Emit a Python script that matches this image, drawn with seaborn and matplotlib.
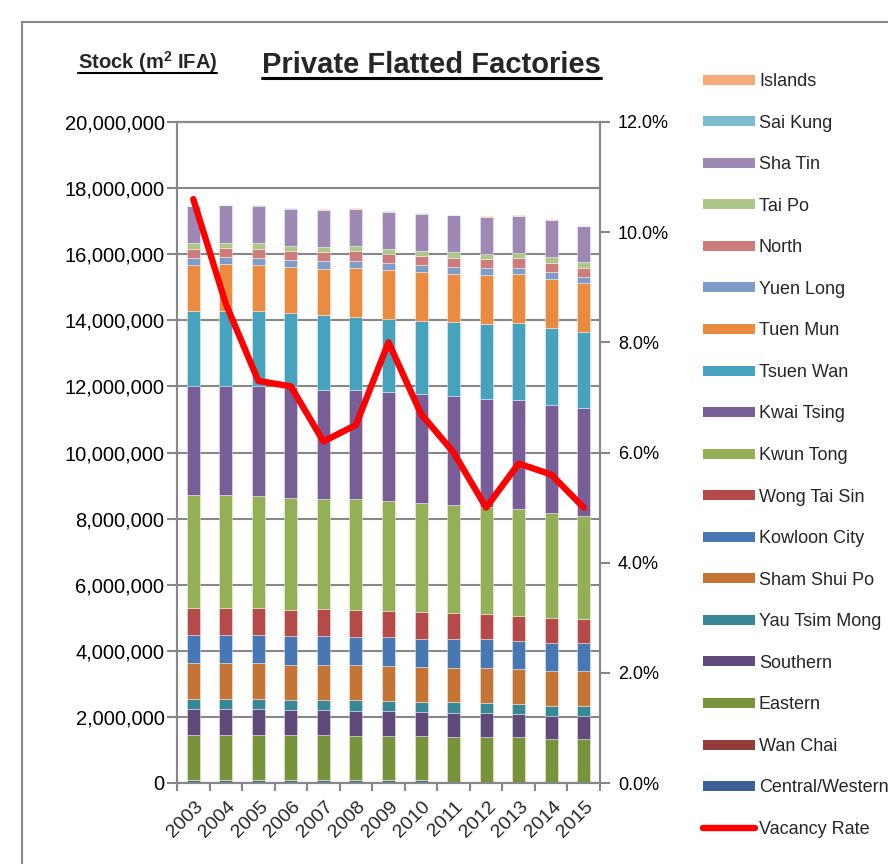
import numpy as np
import matplotlib
matplotlib.use("Agg")
import matplotlib.pyplot as plt
import matplotlib.transforms as mtransforms
from matplotlib.lines import Line2D
from matplotlib.ticker import FuncFormatter, FixedLocator
import seaborn as sns

years = ["2003", "2004", "2005", "2006", "2007", "2008", "2009",
         "2010", "2011", "2012", "2013", "2014", "2015"]

# Private flatted factory stock by district, thousand m2 IFA
central_western = [90, 90, 90, 90, 90, 90, 90, 90, 30, 30, 30, 30, 30]
wan_chai = [0, 0, 0, 0, 0, 0, 0, 0, 0, 0, 0, 0, 0]
eastern = [1360, 1360, 1360, 1350, 1350, 1340, 1320, 1320, 1360, 1360, 1350, 1300, 1300]
southern = [790, 790, 790, 770, 770, 760, 770, 750, 740, 740, 720, 710, 690]
yau_tsim_mong = [310, 310, 310, 310, 310, 310, 300, 300, 310, 300, 300, 300, 310]
sham_shui_po = [1080, 1080, 1070, 1060, 1060, 1070, 1070, 1040, 1050, 1060, 1050, 1040, 1050]
kowloon_city = [860, 860, 870, 870, 860, 860, 860, 860, 870, 860, 860, 850, 850]
wong_tai_sin = [810, 810, 810, 790, 810, 810, 800, 820, 790, 750, 750, 770, 740]
kwun_tong = [3400, 3400, 3390, 3390, 3330, 3350, 3330, 3290, 3260, 3250, 3230, 3170, 3100]
kwai_tsing = [3310, 3310, 3330, 3350, 3320, 3310, 3300, 3290, 3310, 3280, 3290, 3280, 3280]
tsuen_wan = [2270, 2280, 2260, 2240, 2260, 2210, 2200, 2220, 2220, 2270, 2330, 2330, 2290]
tuen_mun = [1390, 1410, 1400, 1390, 1400, 1480, 1480, 1490, 1470, 1470, 1480, 1480, 1480]
yuen_long = [220, 220, 210, 220, 220, 210, 200, 190, 200, 200, 200, 210, 200]
north = [280, 270, 280, 280, 290, 290, 300, 290, 280, 290, 290, 270, 270]
tai_po = [170, 150, 170, 150, 150, 150, 140, 160, 170, 150, 160, 170, 170]
sha_tin = [1110, 1140, 1130, 1120, 1120, 1130, 1120, 1120, 1120, 1120, 1120, 1120, 1080]
sai_kung = [10, 10, 10, 10, 10, 10, 10, 10, 10, 10, 10, 10, 10]
islands = [10, 10, 10, 10, 10, 10, 10, 10, 10, 10, 10, 10, 10]

# Vacancy rate, %
vacancy_rate = [10.6, 8.7, 7.3, 7.2, 6.2, 6.5, 8.0, 6.7, 6.0, 5.0, 5.8, 5.6, 5.0]

series = [
    ("Central/Western", central_western, "#3A6298"),
    ("Wan Chai", wan_chai, "#943C3A"),
    ("Eastern", eastern, "#77933C"),
    ("Southern", southern, "#604A7B"),
    ("Yau Tsim Mong", yau_tsim_mong, "#378797"),
    ("Sham Shui Po", sham_shui_po, "#C47535"),
    ("Kowloon City", kowloon_city, "#4878B4"),
    ("Wong Tai Sin", wong_tai_sin, "#B44B48"),
    ("Kwun Tong", kwun_tong, "#93B056"),
    ("Kwai Tsing", kwai_tsing, "#775E97"),
    ("Tsuen Wan", tsuen_wan, "#47A3BD"),
    ("Tuen Mun", tuen_mun, "#E98C41"),
    ("Yuen Long", yuen_long, "#7E9CC8"),
    ("North", north, "#CB7C7B"),
    ("Tai Po", tai_po, "#AEC686"),
    ("Sha Tin", sha_tin, "#9E89B5"),
    ("Sai Kung", sai_kung, "#7DBBCF"),
    ("Islands", islands, "#F7AB7A"),
]

sns.set_theme(style="white")
plt.rcParams["font.family"] = ["Liberation Sans", "DejaVu Sans"]
plt.rcParams["mathtext.fontset"] = "custom"
plt.rcParams["mathtext.rm"] = "Liberation Sans"
plt.rcParams["mathtext.bf"] = "Liberation Sans:bold"

GRID = "#878787"

fig = plt.figure(figsize=(8.88, 8.64), dpi=100)
fig.patch.set_facecolor("white")

# outer frame of the chart area
fig.add_artist(Line2D([22 / 888, 22 / 888], [1 - 22 / 864, -0.05],
                      transform=fig.transFigure, color=GRID, lw=1.5))
fig.add_artist(Line2D([22 / 888, 1.05], [1 - 22 / 864, 1 - 22 / 864],
                      transform=fig.transFigure, color=GRID, lw=1.5))

ax = fig.add_axes([177 / 888, 81 / 864, 423 / 888, 661 / 864])

bottom = np.zeros(len(years))
for name, vals, col in series:
    v = np.asarray(vals, dtype=float) * 1000
    sns.barplot(x=years, y=v, color=col, saturation=1, width=0.4,
                bottom=bottom.copy(), errorbar=None, ax=ax,
                edgecolor=(1, 1, 1, 0.45), linewidth=0.6, zorder=2)
    bottom += v

ax.set_xlim(-0.5, len(years) - 0.5)
ax.set_ylim(0, 20_000_000)
ax.yaxis.set_major_locator(FixedLocator(np.arange(0, 20_000_001, 2_000_000)))
ax.yaxis.set_major_formatter(FuncFormatter(lambda v, p: f"{v:,.0f}"))
ax.yaxis.grid(True, color=GRID, lw=1.5, zorder=0)
ax.set_axisbelow(True)
ax.set_xlabel("")
ax.set_ylabel("")
for s in ax.spines.values():
    s.set_color(GRID)
    s.set_linewidth(1.5)

ax.tick_params(axis="y", left=True, length=7, width=1.5, color=GRID,
               labelsize=14.5, pad=2, labelcolor="black")
ax.set_xticks(np.arange(len(years)))
ax.set_xticklabels(years, rotation=45, ha="right", va="center",
                   rotation_mode="anchor", fontsize=14)
ax.set_xticks(np.arange(-0.5, len(years)), minor=True)
ax.tick_params(axis="x", which="major", length=0, pad=15)
ax.tick_params(axis="x", which="minor", bottom=True, length=6, width=1.5, color=GRID)
shift = mtransforms.ScaledTranslation(7 / 100, 0, fig.dpi_scale_trans)
for lab in ax.get_xticklabels():
    lab.set_transform(lab.get_transform() + shift)

ax2 = ax.twinx()
sns.lineplot(x=np.arange(len(years)), y=vacancy_rate, ax=ax2, color="#FF0000",
             lw=4.6, solid_capstyle="round", solid_joinstyle="round", zorder=5)
ax2.set_ylim(0, 12)
ax2.set_xlim(-0.5, len(years) - 0.5)
ax2.yaxis.set_major_locator(FixedLocator(np.arange(0, 12.1, 2)))
ax2.yaxis.set_major_formatter(FuncFormatter(lambda v, p: f"{v:.1f}%"))
ax2.set_ylabel("")
ax2.tick_params(axis="y", right=True, length=7, width=1.5, color=GRID,
                labelsize=13, pad=6, labelcolor="black")
for s in ax2.spines.values():
    s.set_color(GRID)
    s.set_linewidth(1.5)

# legend, top of the stack first
handles = [Line2D([0], [0], color=col, lw=7.2, solid_capstyle="butt")
           for name, vals, col in series[::-1]]
labels = [name for name, vals, col in series[::-1]]
handles.append(Line2D([0], [0], color="#FF0000", lw=4.6, solid_capstyle="round"))
labels.append("Vacancy Rate")
fig.legend(handles, labels, loc="upper left", bbox_to_anchor=(703 / 888, 1 - 73 / 864),
           frameon=False, fontsize=13, handlelength=2.9, handletextpad=0.2,
           labelspacing=1.36, borderaxespad=0, borderpad=0)

# titles
title = fig.text(262 / 888, 1 - 73 / 864, "Private Flatted Factories",
                 fontsize=21, fontweight="bold", ha="left", va="baseline")
unit = fig.text(78 / 888, 1 - 69 / 864, r"Stock (m$^{\mathbf{2}}$ IFA)",
                fontsize=14.5, fontweight="bold", ha="left", va="baseline")

fig.canvas.draw()
renderer = fig.canvas.get_renderer()
for t, gap, w in [(title, 5, 2.2), (unit, 4, 1.5)]:
    bb = t.get_window_extent(renderer)
    y = t.get_position()[1] - gap / 864
    fig.add_artist(Line2D([bb.x0 / fig.bbox.width, bb.x1 / fig.bbox.width], [y, y],
                          transform=fig.transFigure, color="black", lw=w))

fig.savefig("out.png", dpi=100)
